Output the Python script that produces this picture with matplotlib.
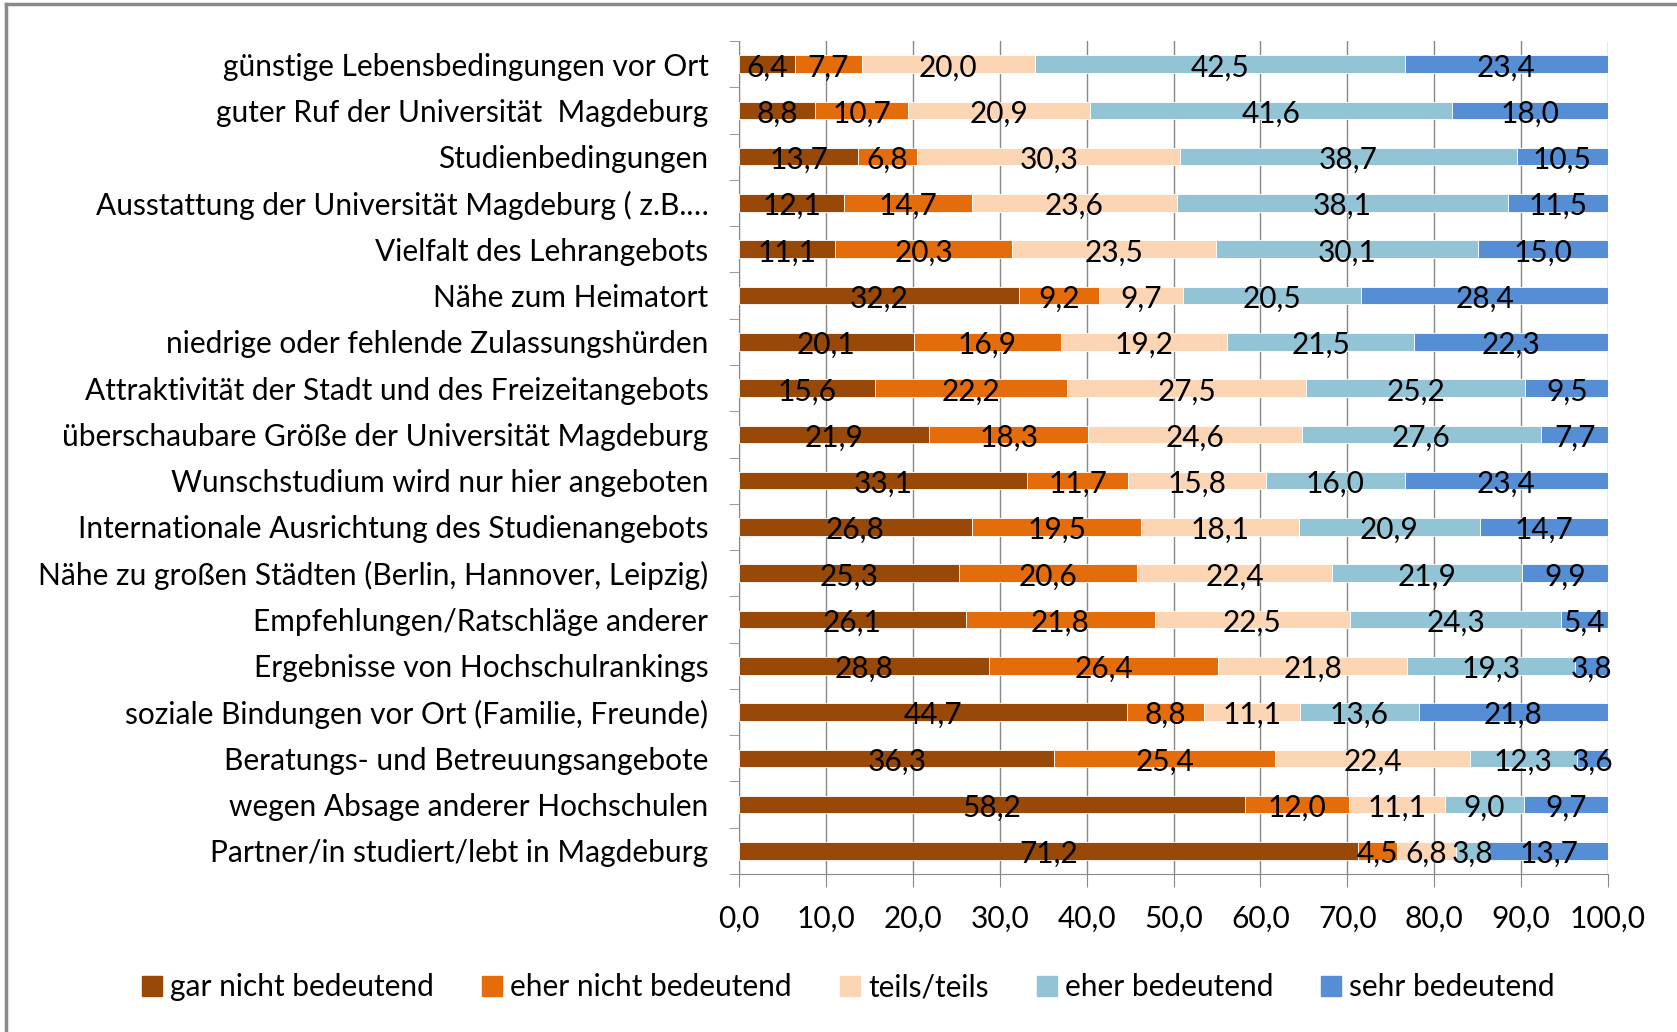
import numpy as np
import matplotlib.pyplot as plt
from matplotlib.lines import Line2D

plt.rcParams['font.family'] = ['Lato', 'DejaVu Sans']

# Kategorien (von oben nach unten)
kategorien = [
    "günstige Lebensbedingungen vor Ort",
    "guter Ruf der Universität  Magdeburg",
    "Studienbedingungen",
    "Ausstattung der Universität Magdeburg ( z.B.…",
    "Vielfalt des Lehrangebots",
    "Nähe zum Heimatort",
    "niedrige oder fehlende Zulassungshürden",
    "Attraktivität der Stadt und des Freizeitangebots",
    "überschaubare Größe der Universität Magdeburg",
    "Wunschstudium wird nur hier angeboten",
    "Internationale Ausrichtung des Studienangebots",
    "Nähe zu großen Städten (Berlin, Hannover, Leipzig)",
    "Empfehlungen/Ratschläge anderer",
    "Ergebnisse von Hochschulrankings",
    "soziale Bindungen vor Ort (Familie, Freunde)",
    "Beratungs- und Betreuungsangebote",
    "wegen Absage anderer Hochschulen",
    "Partner/in studiert/lebt in Magdeburg",
]

gar_nicht = [6.4, 8.8, 13.7, 12.1, 11.1, 32.2, 20.1, 15.6, 21.9, 33.1, 26.8, 25.3, 26.1, 28.8, 44.7, 36.3, 58.2, 71.2]
eher_nicht = [7.7, 10.7, 6.8, 14.7, 20.3, 9.2, 16.9, 22.2, 18.3, 11.7, 19.5, 20.6, 21.8, 26.4, 8.8, 25.4, 12.0, 4.5]
teils = [20.0, 20.9, 30.3, 23.6, 23.5, 9.7, 19.2, 27.5, 24.6, 15.8, 18.1, 22.4, 22.5, 21.8, 11.1, 22.4, 11.1, 6.8]
eher = [42.5, 41.6, 38.7, 38.1, 30.1, 20.5, 21.5, 25.2, 27.6, 16.0, 20.9, 21.9, 24.3, 19.3, 13.6, 12.3, 9.0, 3.8]
sehr = [23.4, 18.0, 10.5, 11.5, 15.0, 28.4, 22.3, 9.5, 7.7, 23.4, 14.7, 9.9, 5.4, 3.8, 21.8, 3.6, 9.7, 13.7]

reihen = ["gar nicht bedeutend", "eher nicht bedeutend", "teils/teils", "eher bedeutend", "sehr bedeutend"]
farben = ["#984807", "#E46C0A", "#FCD5B5", "#93C4D5", "#558ED5"]

werte = np.array([gar_nicht, eher_nicht, teils, eher, sehr])
# auf 100 normieren wie im Original (Balken enden bei 100)
anteile = werte / werte.sum(axis=0) * 100

fs = 21.5

fig = plt.figure(figsize=(16.77, 10.32), dpi=100)
ax = fig.add_axes([739 / 1677, 1 - 874 / 1032, 869 / 1677, 833 / 1032])

y = np.arange(len(kategorien))
links = np.zeros(len(kategorien))
for i in range(len(reihen)):
    ax.barh(y, anteile[i], left=links, height=0.38, color=farben[i],
            edgecolor="white", linewidth=0.6, label=reihen[i], zorder=3)
    for j in range(len(kategorien)):
        ax.text(links[j] + anteile[i][j] / 2, y[j] + 0.07,
                f"{werte[i][j]:.1f}".replace(".", ","),
                ha="center", va="center", fontsize=fs, color="black", zorder=4)
    links += anteile[i]

ax.set_xlim(0, 100)
ax.set_ylim(len(kategorien) - 0.5, -0.5)
ax.set_xticks(np.arange(0, 101, 10))
ax.set_xticklabels([f"{v:.1f}".replace(".", ",") for v in np.arange(0, 101, 10)], fontsize=fs)
ax.set_yticks(y)
ax.set_yticklabels(kategorien, fontsize=fs)
ax.tick_params(axis="y", length=0, pad=22)
ax.set_yticks(np.arange(-0.5, len(kategorien), 1), minor=True)
ax.tick_params(axis="y", which="minor", length=7, color="#888888")
ax.tick_params(axis="x", length=9, color="#888888", pad=13)
ax.grid(axis="x", color="#888888", linewidth=1, zorder=0)
for s in ["top", "right"]:
    ax.spines[s].set_visible(False)
ax.spines["left"].set_color("#888888")
ax.spines["bottom"].set_color("#888888")

griffe = [Line2D([0], [0], marker="s", linestyle="none", markersize=14,
                 markerfacecolor=f, markeredgecolor=f) for f in farben]
fig.legend(griffe, reihen, loc="center", bbox_to_anchor=(0.505, 1 - 987 / 1032),
           ncol=5, frameon=False, fontsize=fs, handletextpad=0.15,
           columnspacing=1.5, handlelength=0.9)

# Rahmen (grau) links und oben
fig.add_artist(Line2D([6 / 1677, 6 / 1677], [0, 1 - 4 / 1032], color="#8a8a8a", lw=2.5))
fig.add_artist(Line2D([6 / 1677, 1], [1 - 4 / 1032, 1 - 4 / 1032], color="#8a8a8a", lw=2.5))

fig.savefig("out.png", dpi=100)
